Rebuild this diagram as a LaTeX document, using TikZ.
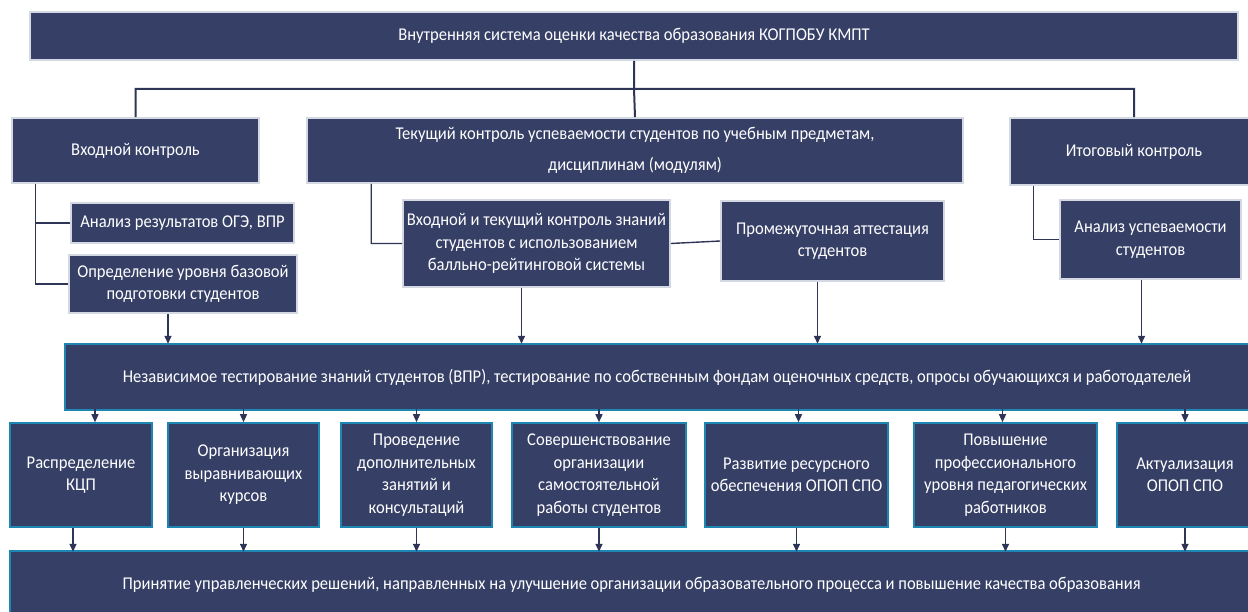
\documentclass[tikz,border=0pt]{standalone}
\usepackage{fontspec}
\setmainfont{Carlito}[FakeStretch=0.92]
\usetikzlibrary{arrows.meta}
\definecolor{blok}{HTML}{363F66}
\definecolor{kant}{HTML}{D3D8E3}
\definecolor{biruza}{HTML}{1D86B2}
\definecolor{liniya}{HTML}{2E3556}
\begin{document}
\begin{tikzpicture}[x=1pt, y=-1pt,
  box/.style={draw=kant, line width=1.6pt, fill=blok, text=white, align=center, inner sep=2pt, font=\fontsize{18}{22.5}\selectfont},
  lowbox/.style={box, draw=biruza},
  link/.style={draw=liniya, line width=1.4pt},
  arr/.style={link, -{Triangle[length=8pt,width=7pt]}}]
\useasboundingbox (0,0) rectangle (1248,612);
% top level
\node [box, minimum width=1208pt, minimum height=48pt] (vsok) at (634,36) {Внутренняя система оценки качества образования КОГПОБУ КМПТ};
\node [box, minimum width=247pt, minimum height=65pt] (vhod) at (135.5,150.5) {Входной контроль};
\node [box, minimum width=656pt, minimum height=65pt] (tek) at (635,150.5) {Текущий контроль успеваемости студентов по учебным предметам,\\[8.5pt] дисциплинам (модулям)};
\node [box, minimum width=248pt, minimum height=67pt] (itog) at (1134,151.5) {Итоговый контроль};
% second level
\node [box, minimum width=223pt, minimum height=40pt] (oge) at (182.5,223) {Анализ результатов ОГЭ, ВПР};
\node [box, minimum width=228pt, minimum height=58pt] (opr) at (183,284) {Определение уровня базовой\\подготовки студентов};
\node [box, minimum width=267pt, minimum height=87pt] (brs) at (536.5,243.5) {Входной и текущий контроль знаний\\студентов с использованием\\балльно-рейтинговой системы};
\node [box, minimum width=223pt, minimum height=80pt] (prom) at (832.5,241) {Промежуточная аттестация\\студентов};
\node [box, minimum width=181pt, minimum height=79pt] (usp) at (1150.5,239.5) {Анализ успеваемости\\студентов};
% testing
\node [lowbox, minimum width=1184pt, minimum height=66pt] (nez) at (657,377) {Независимое тестирование знаний студентов (ВПР), тестирование по собственным фондам оценочных средств, опросы обучающихся и работодателей};
% measures
\node [lowbox, minimum width=142pt, minimum height=104pt] (m1) at (81,475) {Распределение\\КЦП};
\node [lowbox, minimum width=151pt, minimum height=104pt] (m2) at (243.5,475) {Организация\\выравнивающих\\курсов};
\node [lowbox, minimum width=151pt, minimum height=104pt] (m3) at (416.5,475) {Проведение\\дополнительных\\занятий и\\консультаций};
\node [lowbox, minimum width=174pt, minimum height=104pt] (m4) at (599,475) {Совершенствование\\организации\\самостоятельной\\работы студентов};
\node [lowbox, minimum width=183pt, minimum height=104pt] (m5) at (796.5,475) {Развитие ресурсного\\обеспечения ОПОП СПО};
\node [lowbox, minimum width=183pt, minimum height=104pt] (m6) at (1005.5,475) {Повышение\\профессионального\\уровня педагогических\\работников};
\node [lowbox, minimum width=136pt, minimum height=104pt] (m7) at (1185,475) {Актуализация\\ОПОП СПО};
% result
\node [lowbox, minimum width=1243pt, minimum height=68pt] (res) at (631.5,585) {Принятие управленческих решений, направленных на улучшение организации образовательного процесса и повышение качества образования};
% tree
\draw [link, line width=2pt] (vsok.south) -- ++(0,28) coordinate (bus)
  (bus) -| (vhod.north)
  (bus) -| (itog.north)
  (bus) -- (tek.north);
\draw [link] ([xshift=24pt]vhod.south west) |- (oge.west)
  ([xshift=24pt]vhod.south west) |- (opr.west);
\draw [link] ([xshift=65pt]tek.south west) |- (brs.west)
  (brs.east) -- (prom.west);
\draw [link] ([xshift=24pt]itog.south west) |- (usp.west);
% into testing
\draw [arr] ([xshift=-15pt]opr.south) -- ++(0,30);
\draw [arr] ([xshift=-15pt]brs.south) -- ++(0,56);
\draw [arr] ([xshift=-15pt]prom.south) -- ++(0,62);
\draw [arr] ([xshift=-9pt]usp.south) -- ++(0,64);
% testing to measures
\draw [arr] ([xshift=14pt]m1.north) ++(0,-13) -- ([xshift=14pt]m1.north);
\draw [arr] (m2.north) ++(0,-13) -- (m2.north);
\draw [arr] (m3.north) ++(0,-13) -- (m3.north);
\draw [arr] (m4.north) ++(0,-13) -- (m4.north);
\draw [arr] ([xshift=2pt]m5.north) ++(0,-13) -- ([xshift=2pt]m5.north);
\draw [arr] ([xshift=-3pt]m6.north) ++(0,-13) -- ([xshift=-3pt]m6.north);
\draw [arr] (m7.north) ++(0,-13) -- (m7.north);
% measures to result
\draw [arr] ([xshift=-8pt]m1.south) -- ++(0,24);
\draw [arr] (m2.south) -- ++(0,24);
\draw [arr] (m3.south) -- ++(0,24);
\draw [arr] (m4.south) -- ++(0,24);
\draw [arr] (m5.south) -- ++(0,24);
\draw [arr] (m6.south) -- ++(0,24);
\draw [arr] (m7.south) -- ++(0,24);
\end{tikzpicture}
\end{document}
